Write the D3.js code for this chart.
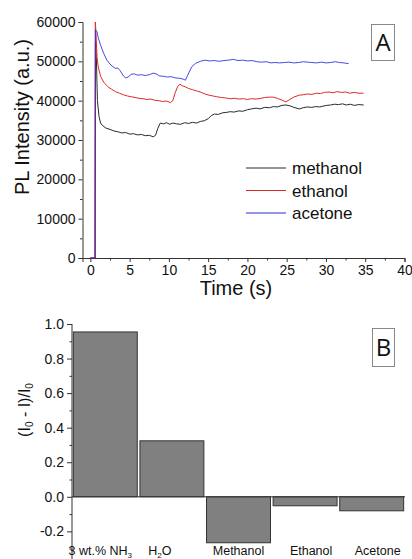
<!DOCTYPE html>
<html>
<head>
<meta charset="utf-8">
<script src="https://cdn.jsdelivr.net/npm/d3@7"></script>
<style>
  body { margin: 0; background: #fff; }
  svg { display: block; font-family: "Liberation Sans", Arial, sans-serif; }
</style>
</head>
<body>
<div id="chart"></div>
<script>
// Panel A: PL intensity vs time, [time (s), intensity (a.u.)]
const methanol = [[0,0],[0.3,0],[0.6,0],[0.65,55000],[0.75,52000],[0.9,40000],[1.1,36000],[1.3,34300],[1.6,33600],[2,33000],[2.5,32700],[3,32300],[3.5,32100],[4,31800],[4.5,31900],[5,31500],[5.5,31600],[6,31300],[6.5,31400],[7,31100],[7.5,31200],[8,30800],[8.3,31200],[8.6,33000],[8.9,34300],[9.3,34100],[9.7,34400],[10.1,34000],[10.5,34300],[11,34100],[11.5,34000],[12,34400],[12.5,34200],[13,34500],[13.5,34300],[14,34700],[14.5,34900],[15,35400],[15.4,36200],[15.8,36600],[16.3,36500],[16.8,36900],[17.3,37000],[17.8,37200],[18.3,37100],[18.9,37400],[19.4,37300],[20,37700],[20.5,37900],[21.1,38100],[21.6,37900],[22.2,38300],[22.8,38200],[23.3,38500],[23.8,38400],[24.4,38800],[24.9,38900],[25.4,38700],[25.9,38300],[26.6,37900],[27.1,38200],[27.6,38400],[28.2,38300],[28.7,38500],[29.2,38400],[29.6,38600],[30.1,38800],[30.6,38900],[31.1,39100],[31.6,39000],[32.1,39200],[32.6,38900],[33.1,39100],[33.6,38800],[34.2,39000],[34.8,38900]];
const ethanol = [[0,0],[0.3,0],[0.6,0],[0.63,60000],[0.7,58000],[0.85,51000],[1.0,48600],[1.3,46200],[1.7,44700],[2.2,43600],[2.7,42900],[3.2,42300],[3.7,41900],[4.2,41500],[4.7,41200],[5.2,41000],[5.7,40800],[6.2,40600],[6.7,40500],[7.2,40300],[7.7,40400],[8.2,40100],[8.7,40000],[9.2,39800],[9.7,39900],[10.2,39500],[10.5,40000],[10.8,42000],[11.1,43500],[11.4,44200],[11.7,43800],[12.1,43500],[12.5,43100],[13,42800],[13.5,42500],[14,42200],[14.6,41700],[15.1,41400],[15.6,41200],[16.1,41000],[16.7,40800],[17.2,40700],[17.8,40500],[18.4,40600],[18.9,40400],[19.5,40500],[20,40300],[20.5,40500],[21.1,40400],[21.7,40600],[22.2,40800],[22.8,40900],[23.3,40900],[23.8,40600],[24.3,40200],[24.9,39700],[25.4,40300],[25.9,40900],[26.6,41400],[27.1,41500],[27.6,41700],[28.2,41600],[28.8,41900],[29.3,41800],[29.8,42100],[30.4,42200],[30.9,42000],[31.4,42300],[32,42100],[32.5,42200],[33,41900],[33.6,42100],[34.2,41900],[34.8,41900]];
const acetone = [[0,0],[0.3,0],[0.6,0],[0.64,58000],[0.85,57500],[1.0,56000],[1.3,54100],[1.7,52000],[2.1,50300],[2.5,49300],[2.9,48600],[3.2,48200],[3.5,48300],[3.8,47600],[4.2,46300],[4.5,45800],[4.8,46000],[5.2,46700],[5.6,46800],[6,46500],[6.5,46600],[7,46400],[7.5,46600],[8,47000],[8.4,46800],[8.8,46300],[9.3,46200],[9.8,46000],[10.3,46100],[10.8,45800],[11.3,45700],[11.8,45500],[12.1,45200],[12.4,46500],[12.9,48600],[13.4,49500],[14,50000],[14.6,50300],[15.2,50100],[15.8,50200],[16.4,50000],[17,50200],[17.6,50300],[18.2,50500],[18.8,50200],[19.4,50300],[20,50100],[20.6,50200],[21.2,49900],[21.8,49800],[22.4,49900],[23,49600],[23.5,49700],[24.1,49600],[24.7,49700],[25.3,49800],[25.9,49600],[26.5,49700],[27.1,49900],[27.6,49800],[28.2,49700],[28.8,49600],[29.4,49800],[30,49600],[30.6,49700],[31.2,49900],[31.7,49700],[32.3,49600],[32.9,49400]];
const seriesNames = ['methanol', 'ethanol', 'acetone'];
const xTicksA = [0, 5, 10, 15, 20, 25, 30, 35, 40];
const yTicksA = [0, 10000, 20000, 30000, 40000, 50000, 60000];

// Panel B: relative quenching
const categoriesB = ['NH3', 'H2O', 'Methanol', 'Ethanol', 'Acetone'];
const valuesB = [0.954, 0.324, -0.266, -0.052, -0.081];
const yTicksB = [-0.2, 0.0, 0.2, 0.4, 0.6, 0.8, 1.0];

const W = 412, H = 559;
const colors = { methanol: '#2b2b2b', ethanol: '#dd2a2a', acetone: '#2a2ad8' };

const svg = d3.select('#chart').append('svg')
  .attr('width', W).attr('height', H).attr('viewBox', [0, 0, W, H]);

// ---------- Panel A ----------
const xA = d3.scaleLinear().domain([-1, 40]).range([82.5, 404.5]);
const yA = d3.scaleLinear().domain([0, 60000]).range([258, 22]);

const gA = svg.append('g');

const axA = gA.append('g').attr('transform', `translate(0,${yA(0)})`)
  .call(d3.axisBottom(xA).tickValues(xTicksA).tickSize(4).tickPadding(3).tickFormat(d3.format('d')));
gA.append('g').attr('transform', `translate(0,${yA(0)})`)
  .call(d3.axisBottom(xA).tickValues(d3.range(2.5, 40, 5)).tickSize(2.5).tickFormat(''))
  .select('.domain').remove();

const ayA = gA.append('g').attr('transform', `translate(${xA(-1)},0)`)
  .call(d3.axisLeft(yA).tickValues(yTicksA).tickSize(4).tickPadding(3).tickFormat(d3.format('d')));
gA.append('g').attr('transform', `translate(${xA(-1)},0)`)
  .call(d3.axisLeft(yA).tickValues(d3.range(5000, 60000, 10000)).tickSize(2.5).tickFormat(''))
  .select('.domain').remove();

gA.selectAll('.tick text').attr('font-size', 14).attr('fill', '#111')
  .attr('font-family', '"Liberation Sans", Arial, sans-serif');
gA.selectAll('.domain, .tick line').attr('stroke', '#333');

const line = d3.line().x(d => xA(d[0])).y(d => yA(d[1]));
const dataA = { methanol, ethanol, acetone };
seriesNames.forEach(name => {
  gA.append('path')
    .datum(dataA[name])
    .attr('fill', 'none')
    .attr('stroke', colors[name])
    .attr('stroke-width', 1)
    .attr('stroke-linejoin', 'round')
    .attr('opacity', name === 'acetone' ? 0.85 : 1)
    .attr('d', line);
});

gA.append('text')
  .attr('transform', 'translate(29,117) rotate(-90)')
  .attr('text-anchor', 'middle')
  .attr('font-size', 20).attr('fill', '#111')
  .text('PL Intensity (a.u.)');

gA.append('text')
  .attr('x', 236).attr('y', 295)
  .attr('text-anchor', 'middle')
  .attr('font-size', 20).attr('fill', '#111')
  .text('Time (s)');

// legend
const legend = gA.append('g');
seriesNames.forEach((name, i) => {
  const ly = 168 + i * 22.5;
  legend.append('line')
    .attr('x1', 246).attr('x2', 286).attr('y1', ly).attr('y2', ly)
    .attr('stroke', colors[name]).attr('stroke-width', 1);
  legend.append('text')
    .attr('x', 292).attr('y', ly + 6)
    .attr('font-size', 17).attr('fill', '#111')
    .text(name);
});

// panel letter
function panelLabel(x, y, w, h, letter) {
  svg.append('rect').attr('x', x).attr('y', y).attr('width', w).attr('height', h)
    .attr('fill', '#fff').attr('stroke', '#888').attr('stroke-width', 1);
  svg.append('text').attr('x', x + w / 2).attr('y', y + h / 2 + 8.5)
    .attr('text-anchor', 'middle').attr('font-size', 24)
    .attr('font-family', '"Open Sans", "DejaVu Sans", sans-serif').attr('fill', '#111')
    .text(letter);
}
panelLabel(371.5, 24.5, 23, 36, 'A');

// ---------- Panel B ----------
const xB = d3.scaleBand().domain(categoriesB).range([72, 405]).paddingInner(0.04).paddingOuter(0.02);
const yB = d3.scaleLinear().domain([-0.36, 1.0]).range([559, 324]);

const gB = svg.append('g');

gB.selectAll('rect.bar')
  .data(valuesB)
  .join('rect')
  .attr('class', 'bar')
  .attr('x', (d, i) => xB(categoriesB[i]))
  .attr('width', xB.bandwidth())
  .attr('y', d => yB(Math.max(0, d)))
  .attr('height', d => Math.abs(yB(d) - yB(0)))
  .attr('fill', '#808080')
  .attr('stroke', '#333')
  .attr('stroke-width', 1);

gB.append('line')
  .attr('x1', 72).attr('x2', 405).attr('y1', yB(0)).attr('y2', yB(0))
  .attr('stroke', '#333');

gB.append('g').attr('transform', 'translate(72,0)')
  .call(d3.axisLeft(yB).tickValues(yTicksB).tickSize(5).tickPadding(3).tickFormat(d => d.toFixed(1)));
gB.append('g').attr('transform', 'translate(72,0)')
  .call(d3.axisLeft(yB).tickValues([-0.3, -0.1, 0.1, 0.3, 0.5, 0.7, 0.9]).tickSize(2.5).tickFormat(''))
  .select('.domain').remove();
gB.selectAll('.domain').attr('d', `M-0,${yB(1.0)}V${H}`);
gB.selectAll('.tick text').attr('font-size', 14).attr('fill', '#111')
  .attr('font-family', '"Liberation Sans", Arial, sans-serif');
gB.selectAll('.domain, .tick line').attr('stroke', '#333');

// category labels with subscripts
const catLabels = gB.append('g').attr('font-size', 12.5).attr('fill', '#111').attr('text-anchor', 'middle');
function catText(i, parts, dx) {
  const t = catLabels.append('text')
    .attr('x', xB(categoriesB[i]) + xB.bandwidth() / 2 + dx)
    .attr('y', 555);
  parts.forEach(p => {
    const s = t.append('tspan').text(p.text);
    if (p.sub) s.attr('font-size', 8).attr('dy', 3);
    if (p.back) s.attr('dy', -3);
  });
}
catText(0, [{ text: '3 wt.% NH' }, { text: '3', sub: true }], -5);
catText(1, [{ text: 'H' }, { text: '2', sub: true }, { text: 'O', back: true }], -12);
catText(2, [{ text: 'Methanol' }], 0);
catText(3, [{ text: 'Ethanol' }], 6);
catText(4, [{ text: 'Acetone' }], 6);

gB.append('text')
  .attr('transform', 'translate(30,410) rotate(-90)')
  .attr('text-anchor', 'middle')
  .attr('font-size', 16).attr('fill', '#111')
  .call(t => {
    t.append('tspan').text('(I');
    t.append('tspan').text('0').attr('font-size', 10).attr('dy', 3);
    t.append('tspan').text(' - I)/I').attr('dy', -3);
    t.append('tspan').text('0').attr('font-size', 10).attr('dy', 3);
  });

panelLabel(372.5, 328.5, 22, 38, 'B');
</script>
</body>
</html>
